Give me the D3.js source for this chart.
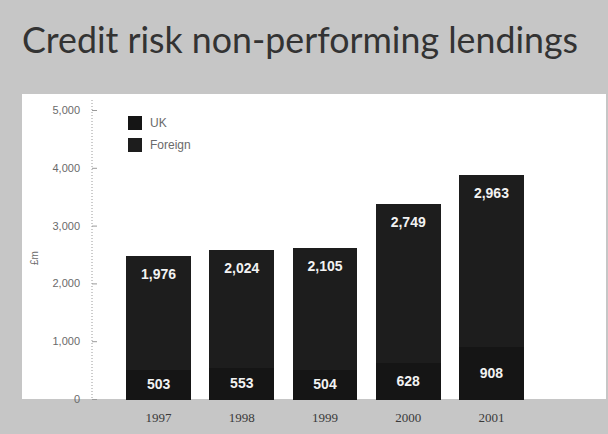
<!DOCTYPE html>
<html>
<head>
<meta charset="utf-8">
<script src="https://cdn.jsdelivr.net/npm/d3@7"></script>
<style>
  html, body { margin: 0; padding: 0; background: #c6c6c6; }
  svg { display: block; }
</style>
</head>
<body>
<svg id="chart" width="608" height="434"></svg>
<script>
// Non-performing lendings by year, £m
const years = ["1997", "1998", "1999", "2000", "2001"];
const ukValues = [503, 553, 504, 628, 908];
const foreignValues = [1976, 2024, 2105, 2749, 2963];
const seriesNames = ["UK", "Foreign"];
const yTicks = [0, 1000, 2000, 3000, 4000, 5000];

const colors = { UK: "#151515", Foreign: "#1d1d1d" };

const svg = d3.select("#chart");
const W = 608, H = 434;

// grey page background and white plotting panel
svg.append("rect").attr("width", W).attr("height", H).attr("fill", "#c6c6c6");
svg.append("rect").attr("x", 22).attr("y", 94).attr("width", 584).attr("height", 305).attr("fill", "#ffffff");

// title
svg.append("text")
  .attr("x", 22).attr("y", 53)
  .attr("font-family", "Lato, 'Open Sans', sans-serif")
  .attr("font-size", 37)
  .attr("fill", "#333333")
  .attr("textLength", 556)
  .attr("lengthAdjust", "spacingAndGlyphs")
  .text("Credit risk non-performing lendings");

const x = d3.scaleBand().domain(years).range([92, 558]).paddingInner(0.22).paddingOuter(0.41);
const y = d3.scaleLinear().domain([0, 5000]).range([399, 110]);

const rows = years.map((yr, i) => ({ year: yr, UK: ukValues[i], Foreign: foreignValues[i] }));
const stack = d3.stack().keys(seriesNames)(rows);

// y axis
const yAxis = d3.axisLeft(y)
  .tickValues(yTicks)
  .tickFormat(d3.format(","))
  .tickSizeInner(-5)
  .tickSizeOuter(0)
  .tickPadding(12);

const ag = svg.append("g").attr("transform", "translate(92,0)").call(yAxis);
ag.select(".domain").attr("stroke", "#9a9a9a").attr("stroke-dasharray", "1,2")
  .attr("d", `M0,${y(5000) - 10}V${y(0)}`);
ag.selectAll(".tick line").attr("stroke", "#9a9a9a");
ag.selectAll(".tick text")
  .attr("font-family", "'Liberation Sans', Arial, sans-serif")
  .attr("font-size", 11)
  .attr("fill", "#6a6a6a");

svg.append("text")
  .attr("transform", "translate(38,258) rotate(-90)")
  .attr("text-anchor", "middle")
  .attr("font-family", "'Liberation Sans', Arial, sans-serif")
  .attr("font-size", 10)
  .attr("fill", "#6a6a6a")
  .text("£m");

// stacked bars; the small overlap hides the seam between segments
const layers = svg.append("g").selectAll("g")
  .data(stack).join("g")
  .attr("fill", d => colors[d.key]);

layers.selectAll("rect")
  .data(d => d)
  .join("rect")
  .attr("x", d => x(d.data.year))
  .attr("width", x.bandwidth())
  .attr("y", d => y(d[1]))
  .attr("height", d => y(d[0]) - y(d[1]) + 0.5)
  .attr("shape-rendering", "crispEdges");

// value labels inside the bars
const fmt = d3.format(",");
const labelFont = "'Liberation Sans Narrow', 'Liberation Sans', Arial, sans-serif";

svg.append("g").selectAll("text")
  .data(stack[0])
  .join("text")
  .attr("x", d => x(d.data.year) + x.bandwidth() / 2)
  .attr("y", d => (y(d[0]) + y(d[1])) / 2 + 5)
  .attr("text-anchor", "middle")
  .attr("font-family", labelFont)
  .attr("font-weight", "bold")
  .attr("font-size", 14)
  .attr("fill", "#f2f2f2")
  .text(d => fmt(d.data.UK));

svg.append("g").selectAll("text")
  .data(stack[1])
  .join("text")
  .attr("x", d => x(d.data.year) + x.bandwidth() / 2)
  .attr("y", d => y(d[1]) + 23)
  .attr("text-anchor", "middle")
  .attr("font-family", labelFont)
  .attr("font-weight", "bold")
  .attr("font-size", 14)
  .attr("fill", "#f2f2f2")
  .text(d => fmt(d.data.Foreign));

// year labels on the grey band
svg.append("g").selectAll("text")
  .data(years)
  .join("text")
  .attr("x", d => x(d) + x.bandwidth() / 2)
  .attr("y", 422)
  .attr("text-anchor", "middle")
  .attr("font-family", "'Liberation Serif', serif")
  .attr("font-size", 13)
  .attr("fill", "#3a3a3a")
  .text(d => d);

// legend
const lg = svg.append("g").attr("transform", "translate(128,116)");
const li = lg.selectAll("g").data(seriesNames).join("g")
  .attr("transform", (d, i) => `translate(0,${i * 22})`);
li.append("rect").attr("width", 14).attr("height", 14).attr("fill", d => colors[d]);
li.append("text")
  .attr("x", 22).attr("y", 11)
  .attr("font-family", "'Liberation Sans', Arial, sans-serif")
  .attr("font-size", 12)
  .attr("fill", "#6a6a6a")
  .text(d => d);
</script>
</body>
</html>
